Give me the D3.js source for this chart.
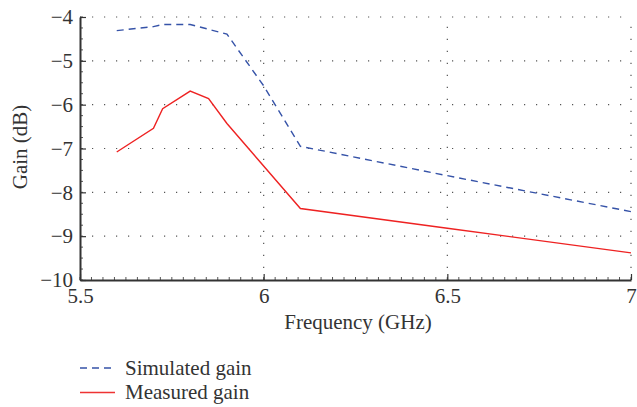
<!DOCTYPE html>
<html><head><meta charset="utf-8">
<script src="https://cdn.jsdelivr.net/npm/d3@7"></script>
<style>
body{margin:0;background:#fff;}
</style></head>
<body><svg id="c" width="637" height="407"></svg>
<script>
const simFreq = [5.6, 5.7, 5.725, 5.8, 5.9, 6.0, 6.1, 6.5, 7.0];
const simGain = [-4.31, -4.22, -4.17, -4.17, -4.39, -5.57, -6.95, -7.62, -8.44];
const measFreq = [5.6, 5.7, 5.725, 5.8, 5.85, 5.9, 6.1, 6.5, 7.0];
const measGain = [-7.08, -6.54, -6.09, -5.69, -5.86, -6.43, -8.37, -8.82, -9.38];
const xTicks = [5.5, 6, 6.5, 7];
const yTicks = [-4, -5, -6, -7, -8, -9, -10];
const legendLabels = ["Simulated gain", "Measured gain"];

const FONT = "'Liberation Serif', 'Times New Roman', serif";
const svg = d3.select("#c");
const L = 80, R = 631, T = 17, B = 280;
const x = d3.scaleLinear().domain([5.5, 7]).range([L, R]);
const y = d3.scaleLinear().domain([-10, -4]).range([B, T]);

// grid
const g = svg.append("g");
yTicks.filter(v => v !== -10).forEach(v => {
  g.append("line").attr("x1", L).attr("x2", R).attr("y1", y(v)).attr("y2", y(v))
    .attr("stroke", "#555").attr("stroke-width", 1.2).attr("stroke-dasharray", "1.2,10.8");
});
xTicks.filter(v => v !== 5.5).forEach(v => {
  g.append("line").attr("x1", x(v)).attr("x2", x(v)).attr("y1", B).attr("y2", T)
    .attr("stroke", "#555").attr("stroke-width", 1.2).attr("stroke-dasharray", "1.2,10.8");
});

// minor ticks
const minorX = d3.range(0, 49).map(i => 5.5 + i * 0.03125);
minorX.forEach(v => {
  svg.append("line").attr("x1", x(v)).attr("x2", x(v)).attr("y1", B).attr("y2", B - 3)
    .attr("stroke", "#555").attr("stroke-width", 1);
});
const minorY = d3.range(0, 25).map(i => -10 + i * 0.25);
minorY.forEach(v => {
  svg.append("line").attr("x1", L).attr("x2", L + 3).attr("y1", y(v)).attr("y2", y(v))
    .attr("stroke", "#555").attr("stroke-width", 1);
});

// axes
const xAxis = svg.append("g").attr("transform", `translate(0,${B})`)
  .call(d3.axisBottom(x).tickValues(xTicks).tickSizeInner(-6).tickSizeOuter(0).tickPadding(8).tickFormat(d3.format("")));
const yAxis = svg.append("g").attr("transform", `translate(${L},0)`)
  .call(d3.axisLeft(y).tickValues(yTicks).tickSizeInner(-6).tickSizeOuter(0).tickPadding(7)
    .tickFormat(d => "\u2212" + Math.abs(d)));
[xAxis, yAxis].forEach(a => {
  a.attr("font-family", FONT).attr("font-size", 21);
  a.select(".domain").attr("stroke", "#333").attr("stroke-width", 2);
  a.selectAll(".tick line").attr("stroke", "#333").attr("stroke-width", 1.2);
  a.selectAll("text").attr("fill", "#333");
});

// lines
const line = d3.line().x(d => x(d[0])).y(d => y(d[1]));
svg.append("path").datum(simFreq.map((f, i) => [f, simGain[i]]))
  .attr("d", line).attr("fill", "none").attr("stroke", "#3653a8").attr("stroke-width", 1.4)
  .attr("stroke-dasharray", "7,5");
svg.append("path").datum(measFreq.map((f, i) => [f, measGain[i]]))
  .attr("d", line).attr("fill", "none").attr("stroke", "#ee2222").attr("stroke-width", 1.4);

// labels
svg.append("text").attr("x", 358).attr("y", 329).attr("text-anchor", "middle")
  .attr("fill", "#333").attr("font-family", FONT).attr("font-size", 21).text("Frequency (GHz)");
svg.append("text").attr("transform", `translate(27,147) rotate(-90)`)
  .attr("fill", "#333").attr("font-family", FONT).attr("text-anchor", "middle").attr("font-size", 21).text("Gain (dB)");

// legend
const leg = svg.append("g").attr("font-family", FONT).attr("font-size", 21).attr("fill", "#333");
leg.append("line").attr("x1", 80).attr("x2", 115).attr("y1", 368).attr("y2", 368)
  .attr("stroke", "#3653a8").attr("stroke-width", 1.4).attr("stroke-dasharray", "7,5");
leg.append("line").attr("x1", 80).attr("x2", 115).attr("y1", 392.5).attr("y2", 392.5)
  .attr("stroke", "#ee3333").attr("stroke-width", 1.4);
leg.append("text").attr("x", 125).attr("y", 375).text(legendLabels[0]);
leg.append("text").attr("x", 125).attr("y", 399).text(legendLabels[1]);
</script></body></html>
